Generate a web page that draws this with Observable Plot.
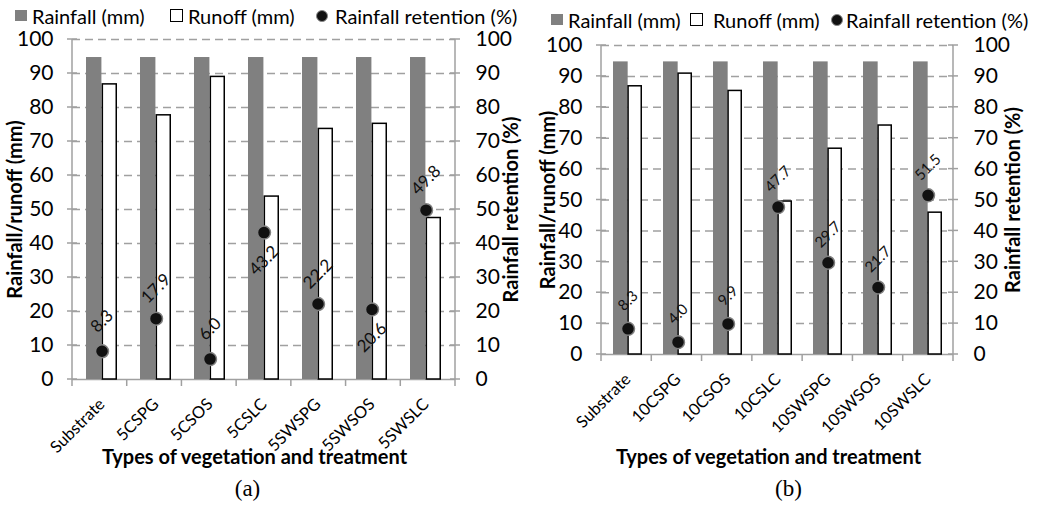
<!DOCTYPE html>
<html><head><meta charset="utf-8">
<script src="https://cdn.jsdelivr.net/npm/d3@7"></script>
<script src="https://cdn.jsdelivr.net/npm/@observablehq/plot@0.6"></script>
<style>
body{margin:0;background:#fff;font-family:Lato,sans-serif;}
#wrap{position:relative;width:1037px;height:506px;overflow:hidden;background:#fff;}
.panel{position:absolute;top:0;}
.lg{position:absolute;font:20px Lato,sans-serif;color:#000;white-space:nowrap;line-height:1;}
.sw{position:absolute;box-sizing:border-box;}
</style></head><body><div id="wrap"></div>
<script>
// ---- data ----
const categoriesA = ["Substrate","5CSPG","5CSOS","5CSLC","5SWSPG","5SWSOS","5SWSLC"];
const rainfallA   = [94.7,94.7,94.7,94.7,94.7,94.7,94.7];
const runoffA     = [86.8,77.7,89.0,53.8,73.7,75.2,47.5];
const retentionA  = [8.3,17.9,6.0,43.2,22.2,20.6,49.8];
const labelBelowA = ["5CSLC","5SWSOS"];

const categoriesB = ["Substrate","10CSPG","10CSOS","10CSLC","10SWSPG","10SWSOS","10SWSLC"];
const rainfallB   = [94.7,94.7,94.7,94.7,94.7,94.7,94.7];
const runoffB     = [86.8,90.9,85.3,49.5,66.6,74.1,45.9];
const retentionB  = [8.3,4.0,9.9,47.7,29.7,21.7,51.5];
const labelBelowB = [];

const yTicks = [0,10,20,30,40,50,60,70,80,90,100];
const legendLabels = ["Rainfall (mm)","Runoff (mm)","Rainfall retention (%)"];
const yTitle = "Rainfall/runoff (mm)";
const y2Title = "Rainfall retention (%)";
const xTitle = "Types of vegetation and treatment";

const wrap = document.getElementById("wrap");
const PAD = 0.43;

function makePanel(cfg) {
  const {cats, rain, run, ret, below, left, width, mt, mb, ml, mr,
         lblSize, upDy, downDy, yTitleDx, y2TitleDx, xTitleDx, xTitleDy, capDx, capDy, caption} = cfg;
  const height = 506;
  const data = cats.map((c, i) => ({cat: c, rain: rain[i], run: run[i], ret: ret[i]}));
  const step = (width - ml - mr) / cats.length;
  const bw = step * (1 - PAD);
  const frame = (index, scales, values, dims) => {
    const W = dims.width, H = dims.height;
    const x0 = dims.marginLeft, x1 = W - dims.marginRight, yb = H - dims.marginBottom, yt = dims.marginTop;
    const y = (scales && typeof scales.y === "function") ? scales.y : (v => yb - v / 100 * (yb - yt));
    const g = d3.create("svg:g").attr("stroke", "#a0a0a0").attr("stroke-width", 1.5).attr("fill", "none");
    g.append("line").attr("x1", x0).attr("x2", x0).attr("y1", y(0)).attr("y2", y(100));
    g.append("line").attr("x1", x1).attr("x2", x1).attr("y1", y(0)).attr("y2", y(100));
    for (const t of yTicks) {
      g.append("line").attr("x1", x0 - 5).attr("x2", x0 + 5).attr("y1", y(t)).attr("y2", y(t));
      g.append("line").attr("x1", x1 - 5).attr("x2", x1 + 5).attr("y1", y(t)).attr("y2", y(t));
    }
    const n = cats.length;
    for (let i = 0; i <= n; i++) {
      const xb = x0 + i * (x1 - x0) / n;
      g.append("line").attr("x1", xb).attr("x2", xb).attr("y1", y(0)).attr("y2", y(0) + 7);
    }
    return g.node();
  };
  const titleOpts = {text: d => d, textAnchor: "middle", lineAnchor: "middle", fontSize: 20, fontWeight: "bold", fill: "#000"};
  const plot = Plot.plot({
    width, height, marginTop: mt, marginBottom: mb, marginLeft: ml, marginRight: mr,
    style: {background: "transparent", fontFamily: "Lato, sans-serif", color: "#000", overflow: "visible"},
    x: {domain: cats, paddingInner: PAD, paddingOuter: PAD / 2, align: 0.5, label: null},
    y: {domain: [0, 100], ticks: yTicks, label: null},
    marks: [
      Plot.ruleY(yTicks.filter(d => d > 0), {stroke: "#a0a0a0", strokeWidth: 1.5, strokeDasharray: "8,5"}),
      Plot.ruleY([0], {stroke: "#a0a0a0", strokeWidth: 1.5}),
      frame,
      Plot.barY(data, {x: "cat", y: "rain", fill: "#808080", insetRight: bw / 2}),
      Plot.barY(data, {x: "cat", y: "run", fill: "#fff", stroke: "#000", strokeWidth: 1.5, insetLeft: bw / 2 + 0.75, insetRight: 0.75}),
      Plot.dot(data, {x: "cat", y: "ret", r: 6.5, fill: "#111", stroke: "#808080", strokeWidth: 1.5}),
      Plot.text(data.filter(d => !below.includes(d.cat)), {x: "cat", y: "ret", text: d => d.ret.toFixed(1), rotate: -45, dy: upDy, fontSize: lblSize, fill: "#111"}),
      Plot.text(data.filter(d => below.includes(d.cat)), {x: "cat", y: "ret", text: d => d.ret.toFixed(1), rotate: -45, dy: downDy, fontSize: lblSize, fill: "#111"}),
      Plot.axisY({anchor: "left", ticks: yTicks, tickSize: 0, tickPadding: 19, fontSize: 21, label: null}),
      Plot.axisY({anchor: "right", ticks: yTicks, tickSize: 0, tickPadding: 20, fontSize: 21, label: null}),
      Plot.axisX({tickRotate: -45, tickSize: 0, tickPadding: 22, fontSize: 16.5, label: null}),
      Plot.text([yTitle], {...titleOpts, frameAnchor: "left", rotate: -90, dx: yTitleDx}),
      Plot.text([y2Title], {...titleOpts, frameAnchor: "right", rotate: -90, dx: y2TitleDx}),
      Plot.text([xTitle], {...titleOpts, frameAnchor: "bottom", dx: xTitleDx, dy: xTitleDy}),
      Plot.text([caption], {text: d => d, textAnchor: "middle", lineAnchor: "middle", frameAnchor: "bottom", dx: capDx, dy: capDy, fontSize: 23, fontFamily: "Liberation Serif, serif", fill: "#000"})
    ]
  });
  const div = document.createElement("div");
  div.className = "panel";
  div.style.left = left + "px";
  div.appendChild(plot);
  wrap.appendChild(div);
}

function legend(items) {
  for (const it of items) {
    const el = document.createElement("div");
    if (it.kind === "text") {
      el.className = "lg";
      el.textContent = it.text;
      el.style.left = it.x + "px";
      el.style.top = (it.cy - 10) + "px";
    } else {
      el.className = "sw";
      el.style.left = it.x + "px"; el.style.top = it.y + "px";
      el.style.width = it.w + "px"; el.style.height = it.h + "px";
      if (it.kind === "gray") el.style.background = "#808080";
      if (it.kind === "white") { el.style.background = "#fff"; el.style.border = "1.5px solid #000"; }
      if (it.kind === "dot") { el.style.background = "#111"; el.style.borderRadius = "50%"; el.style.border = "1px solid #888"; }
    }
    wrap.appendChild(el);
  }
}

makePanel({cats: categoriesA, rain: rainfallA, run: runoffA, ret: retentionA, below: labelBelowA,
  left: 0, width: 518, mt: 39, mb: 127, ml: 72, mr: 63,
  lblSize: 17, upDy: -30, downDy: 28, yTitleDx: -57, y2TitleDx: 56, xTitleDx: -9.5, xTitleDy: 78,
  capDx: -16.5, capDy: 109, caption: "(a)"});
makePanel({cats: categoriesB, rain: rainfallB, run: runoffB, ret: retentionB, below: labelBelowB,
  left: 518, width: 519, mt: 45, mb: 152, ml: 83, mr: 84,
  lblSize: 15, upDy: -28, downDy: 26, yTitleDx: -53, y2TitleDx: 60, xTitleDx: -9, xTitleDy: 103,
  capDx: 11, capDy: 134, caption: "(b)"});

legend([
  {kind: "gray", x: 15, y: 10, w: 12, h: 11},
  {kind: "text", text: legendLabels[0], x: 32, cy: 15.5},
  {kind: "white", x: 170, y: 9, w: 13, h: 13},
  {kind: "text", text: legendLabels[1], x: 188, cy: 15.5},
  {kind: "dot", x: 316, y: 9.5, w: 12, h: 12},
  {kind: "text", text: legendLabels[2], x: 335, cy: 15.5},
  {kind: "gray", x: 551, y: 14, w: 12, h: 11},
  {kind: "text", text: legendLabels[0], x: 568, cy: 20},
  {kind: "white", x: 690, y: 13, w: 13, h: 13},
  {kind: "text", text: legendLabels[1], x: 713, cy: 20},
  {kind: "dot", x: 831, y: 14, w: 12, h: 12},
  {kind: "text", text: legendLabels[2], x: 846, cy: 20}
]);
</script></body></html>
